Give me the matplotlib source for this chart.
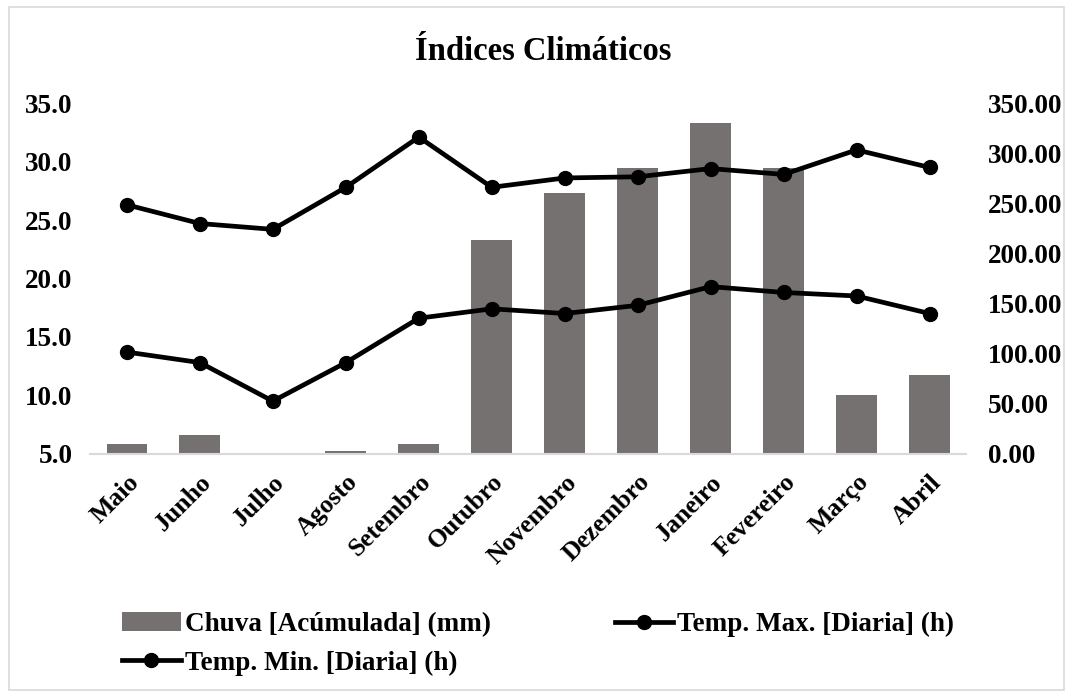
import numpy as np
import matplotlib.pyplot as plt
from matplotlib.patches import Rectangle

meses = ['Maio', 'Junho', 'Julho', 'Agosto', 'Setembro', 'Outubro',
         'Novembro', 'Dezembro', 'Janeiro', 'Fevereiro', 'Março', 'Abril']
chuva = [10, 19, 0, 3, 10, 213, 260, 285, 330, 285, 59, 79]
temp_max = [26.3, 24.7, 24.2, 27.8, 32.1, 27.8, 28.6, 28.7, 29.4, 28.9, 31.0, 29.5]
temp_min = [13.7, 12.8, 9.5, 12.8, 16.6, 17.4, 17.0, 17.7, 19.3, 18.8, 18.5, 17.0]

def main():
    plt.rcParams['font.family'] = ['Liberation Serif', 'DejaVu Serif']
    plt.rcParams['font.weight'] = 'bold'

    fig = plt.figure(figsize=(10.73, 6.97), dpi=100)
    ax1 = fig.add_axes([0.0843, 0.349, 0.816, 0.503])
    ax2 = ax1.twinx()
    ax1.set_zorder(ax2.get_zorder() + 1)
    ax1.patch.set_visible(False)

    x = np.arange(len(meses))
    bars = ax2.bar(x, chuva, width=0.56, color='#767171', label='Chuva [Acúmulada] (mm)')
    l_max, = ax1.plot(x, temp_max, color='black', lw=3.4, marker='o', ms=10,
                      label='Temp. Max. [Diaria] (h)')
    l_min, = ax1.plot(x, temp_min, color='black', lw=3.4, marker='o', ms=10,
                      label='Temp. Min. [Diaria] (h)')

    ax1.set_xlim(-0.5, len(meses) - 0.5)
    ax1.set_ylim(5, 35)
    ax1.set_yticks(np.arange(5, 36, 5))
    ax1.set_yticklabels([f'{v:.1f}' for v in np.arange(5, 36, 5)])
    ax2.set_ylim(0, 350)
    ax2.set_yticks(np.arange(0, 351, 50))
    ax2.set_yticklabels([f'{v:.2f}' for v in np.arange(0, 351, 50)])

    ax1.set_xticks(x)
    ax1.set_xticklabels(meses, rotation=45, ha='right', rotation_mode='anchor')

    for a in (ax1, ax2):
        for s in a.spines.values():
            s.set_visible(False)
        a.tick_params(length=0, labelsize=19.5)
    ax1.spines['bottom'].set_visible(True)
    ax1.spines['bottom'].set_color('#d9d9d9')
    ax1.spines['bottom'].set_linewidth(1.5)
    ax1.tick_params(axis='x', pad=12, labelsize=18.5)
    ax1.tick_params(axis='y', pad=13)
    ax2.tick_params(axis='y', pad=16)

    fig.text(0.506, 0.926, 'Índices Climáticos', ha='center', va='center',
             fontsize=23.5, fontweight='bold')

    fig.legend([bars, l_min, l_max],
               [bars.get_label(), l_min.get_label(), l_max.get_label()],
               ncol=2, loc='upper left', bbox_to_anchor=(0.114, 0.122),
               borderpad=0, borderaxespad=0,
               frameon=False, fontsize=19.5, handlelength=2.15, handletextpad=0.15,
               columnspacing=4.6, labelspacing=0.5)

    fig.patches.append(Rectangle((0.008, 0.01), 0.984, 0.98, transform=fig.transFigure,
                                 fill=False, edgecolor='#d9d9d9', lw=1.2))

    plt.savefig('out.png', dpi=100)
    plt.close()

if __name__ == '__main__':
    main()
